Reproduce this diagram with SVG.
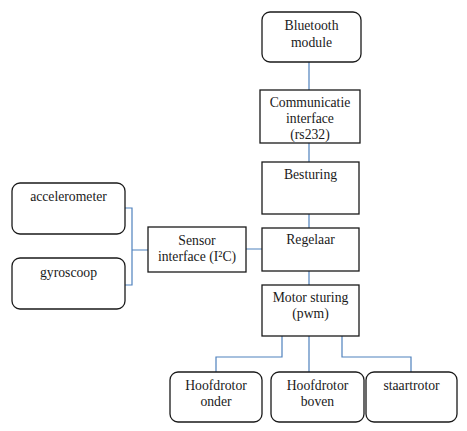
<svg xmlns="http://www.w3.org/2000/svg" width="467" height="431" viewBox="0 0 467 431">
<style>
.b{fill:#fff;stroke:#1a1a1a;stroke-width:1.3}
.t{font-family:"Liberation Serif","DejaVu Serif",serif;font-size:13.7px;fill:#1a1a1a;text-anchor:middle}
.c{fill:none;stroke:#4f81bd;stroke-width:1.2}
</style>
<rect width="467" height="431" fill="#fff"/>
<g id="connectors">
<path class="c" d="M309 62V90M309 143V162M309 214V228M309 271V285"/>
<path class="c" d="M125 208H132V285H125M132 250H148M246 249H262"/>
<path class="c" d="M282 336V357H216V372M309 336V372M342 336V357H411V372"/>
</g>
<g id="bluetooth"><rect class="b" x="262" y="12" width="99" height="50" rx="8"/><text class="t" x="311.5" y="30">Bluetooth</text><text class="t" x="311.5" y="47">module</text></g>
<g id="communicatie"><rect class="b" x="260" y="90" width="100" height="53"/><text class="t" x="310" y="107">Communicatie</text><text class="t" x="310" y="123">interface</text><text class="t" x="310" y="139">(rs232)</text></g>
<g id="besturing"><rect class="b" x="262" y="162" width="97" height="52"/><text class="t" x="310.5" y="179">Besturing</text></g>
<g id="regelaar"><rect class="b" x="262" y="228" width="97" height="43"/><text class="t" x="310.5" y="244">Regelaar</text></g>
<g id="motor"><rect class="b" x="262" y="285" width="97" height="51"/><text class="t" x="310.5" y="302">Motor sturing</text><text class="t" x="310.5" y="318">(pwm)</text></g>
<g id="sensor"><rect class="b" x="148" y="227" width="98" height="45"/><text class="t" x="197" y="245">Sensor</text><text class="t" x="197" y="261">interface (I²C)</text></g>
<g id="accelerometer"><rect class="b" x="12" y="183" width="113" height="51" rx="8"/><text class="t" x="68.5" y="201">accelerometer</text></g>
<g id="gyroscoop"><rect class="b" x="12" y="258" width="113" height="51" rx="8"/><text class="t" x="68.5" y="277">gyroscoop</text></g>
<g id="onder"><rect class="b" x="170" y="372" width="92" height="50" rx="8"/><text class="t" x="216" y="390">Hoofdrotor</text><text class="t" x="216" y="406">onder</text></g>
<g id="boven"><rect class="b" x="271" y="372" width="93" height="50" rx="8"/><text class="t" x="317.5" y="390">Hoofdrotor</text><text class="t" x="317.5" y="406">boven</text></g>
<g id="staartrotor"><rect class="b" x="366" y="372" width="91" height="50" rx="8"/><text class="t" x="411.5" y="390">staartrotor</text></g>
</svg>
